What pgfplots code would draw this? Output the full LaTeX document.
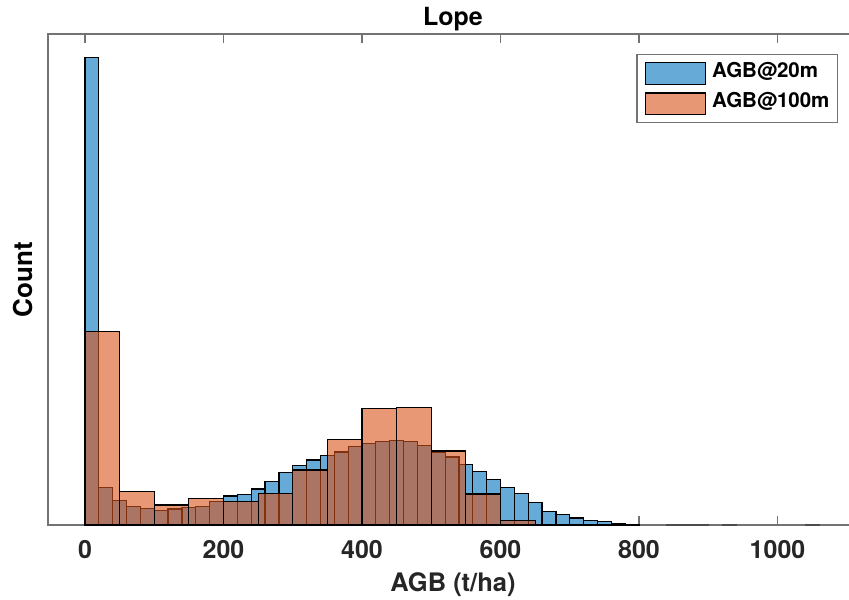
\documentclass[border=0pt]{standalone}
\usepackage{pgfplots}
\pgfplotsset{compat=1.18}
\usepackage{fontspec}
\setmainfont{TeX Gyre Heros}
\definecolor{mblue}{rgb}{0,0.447,0.741}
\definecolor{morange}{rgb}{0.85,0.325,0.098}
\definecolor{axgray}{gray}{0.45}
\definecolor{txt}{gray}{0.15}
\pgfplotsset{
  boxlegend/.style={legend image code/.code={\draw[##1, line width=0.6pt] (0pt,-5.4pt) rectangle (30pt,5.4pt);}},
}
\begin{document}
\begin{tikzpicture}[x=1pt,y=1pt]
\begin{axis}[
  at={(24pt,37pt)}, anchor=south west,
  scale only axis, width=405pt, height=245.5pt,
  xmin=-53.4, xmax=1116.2, ymin=0, ymax=491,
  xtick={0,200,400,600,800,1000}, ytick=\empty,
  x tick label as interval=false,
  /pgf/number format/1000 sep={},
  tick align=inside, major tick length=4.5pt,
  axis line style={axgray, line width=0.6pt},
  every tick/.style={axgray, line width=0.6pt},
  /pgf/number format/assume math mode=true,
  tick label style={font=\bfseries\fontsize{12.5}{14}\selectfont, text=txt},
  xticklabel style={anchor=base, yshift=-16.5pt},
  title={Lope},
  every axis title shift=0pt,
  title style={at={(axis description cs:0.5,1.0183)}, anchor=base, yshift=0pt, font=\bfseries\fontsize{12.5}{14}\selectfont},
  xlabel={AGB (t/ha)},
  xlabel style={at={(axis description cs:0.5,-0.1358)}, anchor=base, yshift=0pt, font=\bfseries\fontsize{12.75}{14}\selectfont, text=txt},
  ylabel={Count},
  ylabel style={at={(axis description cs:-0.01852,0.5)}, anchor=base, font=\bfseries\fontsize{13}{14}\selectfont, text=black},
  legend cell align=left,
  legend style={at={(axis description cs:0.9753,0.9593)}, anchor=north east,
    draw=axgray, line width=0.6pt, fill=white, inner xsep=4pt, inner ysep=3.8pt,
    font=\bfseries\fontsize{10.25}{12}\selectfont, row sep=3.7pt,
    nodes={inner sep=0pt, text height=7.5pt, text depth=3.3pt},
    /tikz/every odd column/.append style={column sep=3pt}},
]
\addplot[ybar interval, fill=mblue, fill opacity=0.6, draw=black, line width=0.6pt, boxlegend] coordinates {
(0,467.3) (20,37.7) (40,24.3) (60,18.3) (80,16.3) (100,14.3) (120,16) (140,17.7) (160,18.7) (180,23.3)
(200,29) (220,30.3) (240,36) (260,43.3) (280,52.7) (300,59.7) (320,65) (340,69.7) (360,73) (380,78.3)
(400,81.7) (420,83.7) (440,84.7) (460,83.7) (480,79.7) (500,73) (520,68) (540,60.7) (560,53.5) (580,45.3)
(600,37.3) (620,31.7) (640,22.2) (660,13.7) (680,10.7) (700,7) (720,4.7) (740,3.3) (760,1.7) (780,0.4) (800,0)
};
\addlegendentry{AGB@20m}
\addplot[ybar interval, fill=morange, fill opacity=0.6, draw=black, line width=0.6pt, boxlegend] coordinates {
(0,193.5) (50,33.7) (100,20) (150,26.7) (200,23.5) (250,31.5) (300,55) (350,85.7) (400,116.7) (450,117.7)
(500,74) (550,31) (600,4.5) (650,0)
};
\addlegendentry{AGB@100m}
\addplot[ybar interval, fill=mblue, fill opacity=0.6, draw=black!70, line width=0.6pt, forget plot] coordinates {(840,0.4) (860,0.4) (880,0.4) (900,0)};
\addplot[ybar interval, fill=mblue, fill opacity=0.6, draw=black!70, line width=0.6pt, forget plot] coordinates {(920,0.4) (940,0)};
\addplot[ybar interval, fill=mblue, fill opacity=0.6, draw=black!70, line width=0.6pt, forget plot] coordinates {(1040,0.4) (1060,0)};
\end{axis}
\pgfresetboundingbox
\useasboundingbox (0,0) rectangle (424.5,299.5);
\end{tikzpicture}
\end{document}
